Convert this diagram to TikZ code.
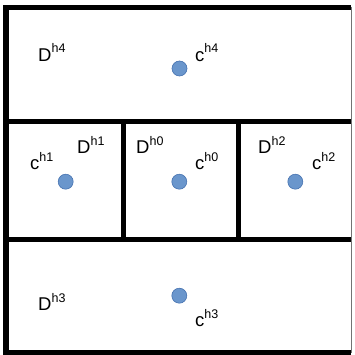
\documentclass[tikz,border=0pt]{standalone}
\usepackage{fontspec}
\setmainfont{Liberation Sans}
\definecolor{dotfill}{RGB}{106,150,204}
\definecolor{dotedge}{RGB}{70,114,176}
\newcommand{\hlab}[2]{#1\raisebox{8.5pt}{\fontsize{12.5}{12.5}\selectfont #2}}
\begin{document}
\begin{tikzpicture}[x=1pt,y=-1pt,
    wall/.style={line width=5.5pt},
    lbl/.style={anchor=base west, inner sep=0pt, font=\fontsize{18.5}{21}\selectfont},
    centre/.style={circle, fill=dotfill, draw=dotedge, line width=0.6pt, minimum size=15pt, inner sep=0pt}]
            \useasboundingbox (0,0) rectangle (354,355);
            % frame and cells
            \draw[wall] (351,7.5) -- (6,7.5) -- (6,352.5) -- (351,352.5);
            \draw[line width=0.8pt, black!55] (351,7.5) -- (351,352.5);
            \draw[wall] (6,121.5) -- (351,121.5);
            \draw[wall] (6,239.5) -- (351,239.5);
            \draw[wall] (123.5,121.5) -- (123.5,239.5);
            \draw[wall] (238.5,121.5) -- (238.5,239.5);
            % centres
            \node[centre] (c4) at (179.5,68.5) {};
            \node[centre] (c1) at (65.7,181.7) {};
            \node[centre] (c0) at (179.3,181.7) {};
            \node[centre] (c2) at (295.3,181.7) {};
            \node[centre] (c3) at (179.3,295.7) {};
            % labels
            \node[lbl] (d4) at (38,61.5) {\hlab{D}{h4}};
            \node[lbl] (l4) at (195,61.5) {\hlab{c}{h4}};
            \node[lbl] (l1) at (30,169.5) {\hlab{c}{h1}};
            \node[lbl] (d1) at (77,153.5) {\hlab{D}{h1}};
            \node[lbl] (d0) at (136,153.5) {\hlab{D}{h0}};
            \node[lbl] (l0) at (195,169.5) {\hlab{c}{h0}};
            \node[lbl] (d2) at (258,153.5) {\hlab{D}{h2}};
            \node[lbl] (l2) at (312,169.5) {\hlab{c}{h2}};
            \node[lbl] (d3) at (38,310.5) {\hlab{D}{h3}};
            \node[lbl] (l3) at (195,326.5) {\hlab{c}{h3}};
        \end{tikzpicture}
\end{document}
